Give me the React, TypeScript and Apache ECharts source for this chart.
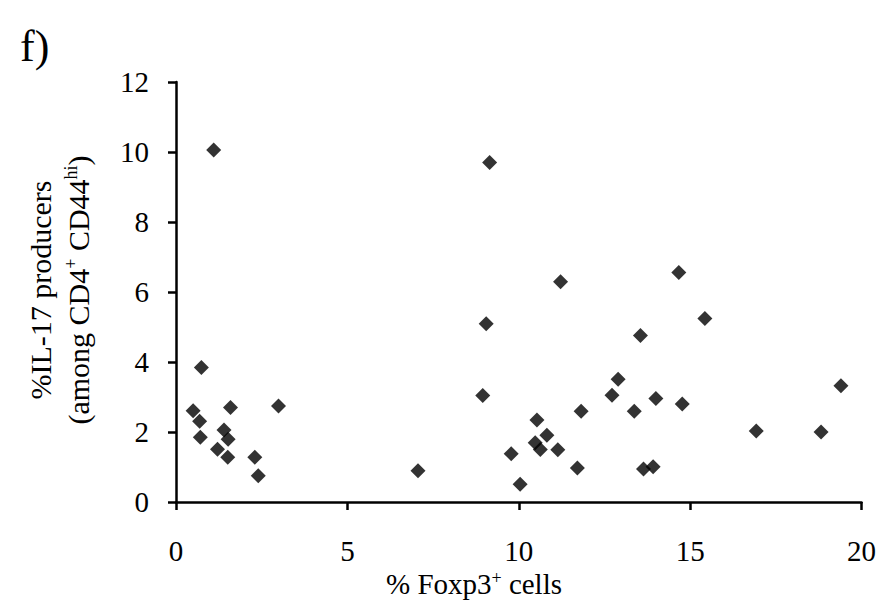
import React, { useEffect, useRef } from "react";
import * as echarts from "echarts";

const foxp3X: number[] = [
  1.1, 0.74, 0.5, 1.59, 2.99, 0.69, 1.4, 0.71, 1.52, 1.21, 1.51, 2.3, 2.4,
  7.06, 9.15, 11.22, 9.05, 8.95, 11.82, 12.72, 10.53, 10.82, 10.48, 10.63,
  11.14, 9.78, 11.71, 10.04, 14.67, 15.43, 13.55, 12.9, 14.0, 13.37, 14.77,
  19.4, 16.93, 18.82, 13.64, 13.92,
];
const il17Y: number[] = [
  10.06, 3.84, 2.61, 2.7, 2.74, 2.31, 2.06, 1.85, 1.79, 1.51, 1.28, 1.28,
  0.75, 0.89, 9.7, 6.29, 5.09, 3.04, 2.59, 3.05, 2.34, 1.91, 1.69, 1.5, 1.49,
  1.38, 0.97, 0.51, 6.56, 5.24, 4.76, 3.51, 2.96, 2.59, 2.8, 3.32, 2.03, 2.0,
  0.94, 1.01,
];
const xTicks = { min: 0, max: 20, interval: 5 };
const yTicks = { min: 0, max: 12, interval: 2 };

const FONT = "'Liberation Serif', 'Times New Roman', serif";

export default function App() {
  const ref = useRef<HTMLDivElement>(null);
  useEffect(() => {
    document.body.style.margin = "0";
    if (!ref.current) return;
    const chart = echarts.init(ref.current, null, { renderer: "svg" });
    const points = foxp3X.map((x, i) => [x, il17Y[i]]);
    const axisLine = { lineStyle: { color: "#000", width: 2.5 } };
    chart.setOption({
      animation: false,
      backgroundColor: "#fff",
      grid: { left: 176, right: 17, top: 82, bottom: 101, containLabel: false },
      xAxis: {
        type: "value",
        min: xTicks.min,
        max: xTicks.max,
        interval: xTicks.interval,
        axisLine,
        axisTick: { show: true, length: 8, lineStyle: { color: "#000", width: 2.5 } },
        splitLine: { show: false },
        axisLabel: { color: "#000", fontSize: 29, fontFamily: FONT, margin: 34 },
      },
      yAxis: {
        type: "value",
        min: yTicks.min,
        max: yTicks.max,
        interval: yTicks.interval,
        axisLine: { show: true, ...axisLine },
        axisTick: { show: true, length: 8, lineStyle: { color: "#000", width: 2.5 } },
        splitLine: { show: false },
        axisLabel: { color: "#000", fontSize: 29, fontFamily: FONT, margin: 27 },
      },
      series: [
        {
          type: "scatter",
          data: points,
          symbol: "diamond",
          symbolSize: 15,
          itemStyle: { color: "#000" },
        },
      ],
      graphic: [
        {
          type: "text",
          left: 20,
          top: 24,
          style: { text: "f)", fontSize: 44, fontFamily: FONT, fill: "#000" },
        },
        {
          type: "text",
          x: 474,
          y: 584,
          style: {
            text: "{a|% Foxp3}{s|+}{a| cells}",
            align: "center",
            verticalAlign: "middle",
            rich: {
              a: { fontSize: 29, fontFamily: FONT, fill: "#000", lineHeight: 30 },
              s: { fontSize: 18, fontFamily: FONT, fill: "#000", lineHeight: 18, verticalAlign: "top" },
            },
          },
        },
        {
          type: "text",
          x: 40,
          y: 290,
          rotation: Math.PI / 2,
          style: {
            text: "%IL-17 producers",
            align: "center",
            verticalAlign: "middle",
            fontSize: 30,
            fontFamily: FONT,
            fill: "#000",
          },
        },
        {
          type: "text",
          x: 78,
          y: 290,
          rotation: Math.PI / 2,
          style: {
            text: "{a|(among CD4}{s|+}{a| CD44}{s|hi}{a|)}",
            align: "center",
            verticalAlign: "middle",
            rich: {
              a: { fontSize: 30, fontFamily: FONT, fill: "#000", lineHeight: 32 },
              s: { fontSize: 18, fontFamily: FONT, fill: "#000", lineHeight: 18, verticalAlign: "top" },
            },
          },
        },
      ],
    });
    return () => chart.dispose();
  }, []);
  return <div ref={ref} style={{ width: 879, height: 603 }} />;
}
